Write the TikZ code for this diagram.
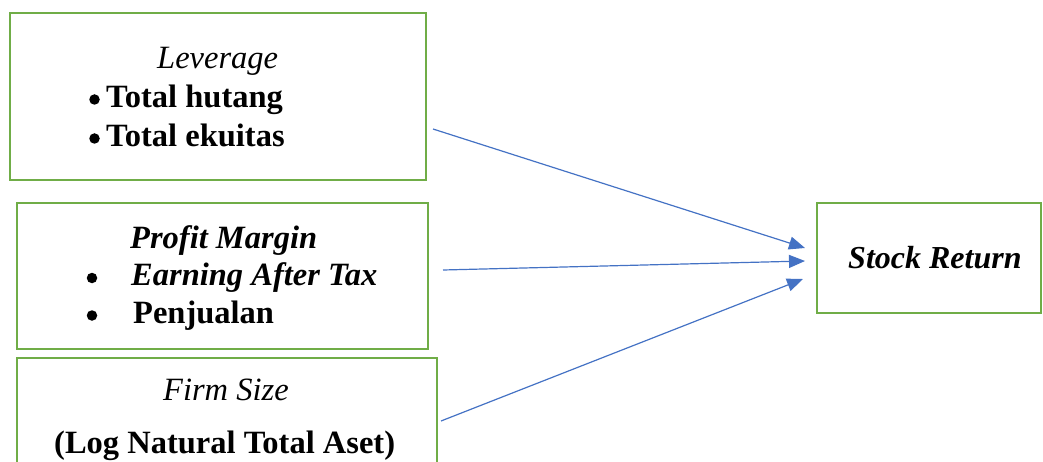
\documentclass[tikz,border=0pt]{standalone}
\usepackage{fontspec}
\setmainfont{Liberation Serif}
\usetikzlibrary{arrows.meta}
\definecolor{boxgreen}{RGB}{112,173,71}
\definecolor{arrowblue}{RGB}{68,114,196}
\tikzset{
  frame/.style={draw=boxgreen, line width=2.8pt},
  txt/.style={anchor=base west, inner sep=0pt, font=\fontsize{32.5}{38}\selectfont},
  bul/.style={circle, fill=black, inner sep=0pt, minimum size=10.5pt},
  link/.style={draw=arrowblue, line width=1.2pt, -{Triangle[length=16pt,width=13pt]}}
}
\begin{document}
\begin{tikzpicture}[x=1pt,y=-1pt]
\useasboundingbox (0,0) rectangle (1043,462);
\clip (0,0) rectangle (1043,462);
% boxes
\draw[frame] (10,13) rectangle (426,180);
\node[inner sep=0pt, minimum width=416pt, minimum height=167pt] (lev) at (218,96.5) {};
\draw[frame] (17,203) rectangle (428,349);
\node[inner sep=0pt, minimum width=411pt, minimum height=146pt] (pm) at (222.5,276) {};
\draw[frame] (17,358) rectangle (437,480);
\node[inner sep=0pt, minimum width=420pt, minimum height=122pt] (fs) at (227,419) {};
\draw[frame] (817,203) rectangle (1041,313);
\node[inner sep=0pt, minimum width=224pt, minimum height=110pt] (sr) at (929,258) {};
% texts
\node[txt] (t1) at (157,69) {\itshape Leverage};
\node[bul] (b1) at (94.5,99.5) {};
\node[txt] (t2) at (106,108) {\bfseries Total hutang};
\node[bul] (b2) at (94.5,138.5) {};
\node[txt] (t3) at (106,147) {\bfseries Total ekuitas};
\node[txt] (t4) at (130,248) {\bfseries\itshape Profit Margin};
\node[bul] (b3) at (92,278) {};
\node[txt] (t5) at (131,285) {\bfseries\itshape Earning After Tax};
\node[bul] (b4) at (92,315.5) {};
\node[txt] (t6) at (133,323) {\bfseries Penjualan};
\node[txt] (t7) at (163,400) {\itshape Firm Size};
\node[txt] (t8) at (54,453) {\bfseries (Log Natural Total Aset)};
\node[txt, font=\fontsize{32}{38}\selectfont] (t9) at (848,268) {\bfseries\itshape Stock Return};
% connector ends
\coordinate (s1) at (433,129);
\coordinate (s2) at (443,270);
\coordinate (s3) at (441,421);
\coordinate (e1) at (805,248);
\coordinate (e2) at (805,261);
\coordinate (e3) at (803,279);
\draw[link] (s1) -- (e1);
\draw[link] (s2) -- (e2);
\draw[link] (s3) -- (e3);
\end{tikzpicture}
\end{document}
